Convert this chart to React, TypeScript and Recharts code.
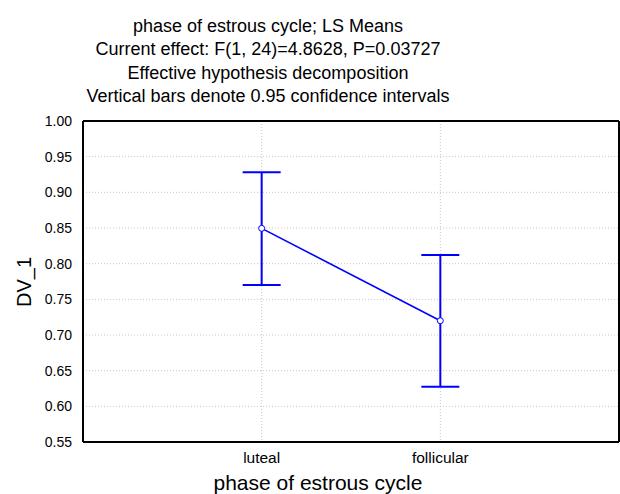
import React from 'react';
import {
  ComposedChart,
  Line,
  ErrorBar,
  XAxis,
  YAxis,
  CartesianGrid,
  ReferenceLine,
} from 'recharts';

const categories = ['luteal', 'follicular'];
const means = [0.8495, 0.72];
const lowerCI = [0.77, 0.6275];
const upperCI = [0.928, 0.812];
const yTicks = [0.55, 0.6, 0.65, 0.7, 0.75, 0.8, 0.85, 0.9, 0.95, 1.0];
const xDomain = [0, 3];
const titleLines = [
  'phase of estrous cycle; LS Means',
  'Current effect: F(1, 24)=4.8628, P=0.03727',
  'Effective hypothesis decomposition',
  'Vertical bars denote 0.95 confidence intervals',
];
const xTitle = 'phase of estrous cycle';
const yTitle = 'DV_1';

const data = categories.map((c, i) => ({
  pos: i + 1,
  phase: c,
  mean: means[i],
  err: [means[i] - lowerCI[i], upperCI[i] - means[i]],
}));
const xTicks = data.map((d) => d.pos);

const BLUE = '#0000ff';
const FONT = '"Liberation Sans", Arial, sans-serif';

export default function App() {
  return (
    <div
      style={{
        position: 'absolute',
        left: 0,
        top: 0,
        width: 620,
        height: 494,
        background: '#fff',
        fontFamily: FONT,
      }}
    >
      <ComposedChart
        width={620}
        height={494}
        data={data}
        margin={{ top: 121, right: 1, left: 0, bottom: 0 }}
        style={{ fontFamily: FONT }}
      >
        <CartesianGrid stroke="#c8c8c8" strokeDasharray="1 2" />
        <XAxis
          type="number"
          dataKey="pos"
          domain={xDomain}
          ticks={xTicks}
          interval={0}
          allowDataOverflow
          height={52}
          axisLine={{ stroke: '#000', strokeWidth: 2 }}
          tickLine={false}
          tickSize={8}
          tickFormatter={(v: number) => categories[v - 1] ?? ''}
          tick={{ fill: '#000', fontSize: 15.5, fontFamily: FONT }}
        />
        <YAxis
          type="number"
          domain={[0.55, 1]}
          ticks={yTicks}
          interval={0}
          width={83}
          allowDataOverflow
          axisLine={{ stroke: '#000', strokeWidth: 2 }}
          tickLine={false}
          tickSize={9}
          tickMargin={2}
          tickFormatter={(v: number) => v.toFixed(2)}
          tick={{ fill: '#000', fontSize: 14, fontFamily: FONT }}
        />
        <ReferenceLine y={1} stroke="#000" strokeWidth={2} ifOverflow="visible" />
        <ReferenceLine x={xDomain[1]} stroke="#000" strokeWidth={2} ifOverflow="visible" />
        <Line
          type="linear"
          dataKey="mean"
          stroke={BLUE}
          strokeWidth={1.6}
          isAnimationActive={false}
          dot={{ r: 3, fill: '#fff', stroke: BLUE, strokeWidth: 1 }}
          activeDot={false}
        >
          <ErrorBar
            dataKey="err"
            direction="y"
            width={19}
            stroke={BLUE}
            strokeWidth={2}
            isAnimationActive={false}
          />
        </Line>
      </ComposedChart>
      <svg
        width={620}
        height={494}
        style={{ position: 'absolute', left: 0, top: 0, pointerEvents: 'none' }}
      >
        {titleLines.map((t, i) => (
          <text
            key={i}
            x={268}
            y={32 + i * 23.4}
            textAnchor="middle"
            fontSize={18}
            fontFamily={FONT}
            fill="#000"
          >
            {t}
          </text>
        ))}
        <text
          x={318}
          y={490}
          textAnchor="middle"
          fontSize={21}
          fontFamily={FONT}
          fill="#000"
        >
          {xTitle}
        </text>
        <text
          transform="translate(31, 282) rotate(-90)"
          x={0}
          y={0}
          textAnchor="middle"
          fontSize={20}
          fontFamily={FONT}
          fill="#000"
        >
          {yTitle}
        </text>
      </svg>
    </div>
  );
}
